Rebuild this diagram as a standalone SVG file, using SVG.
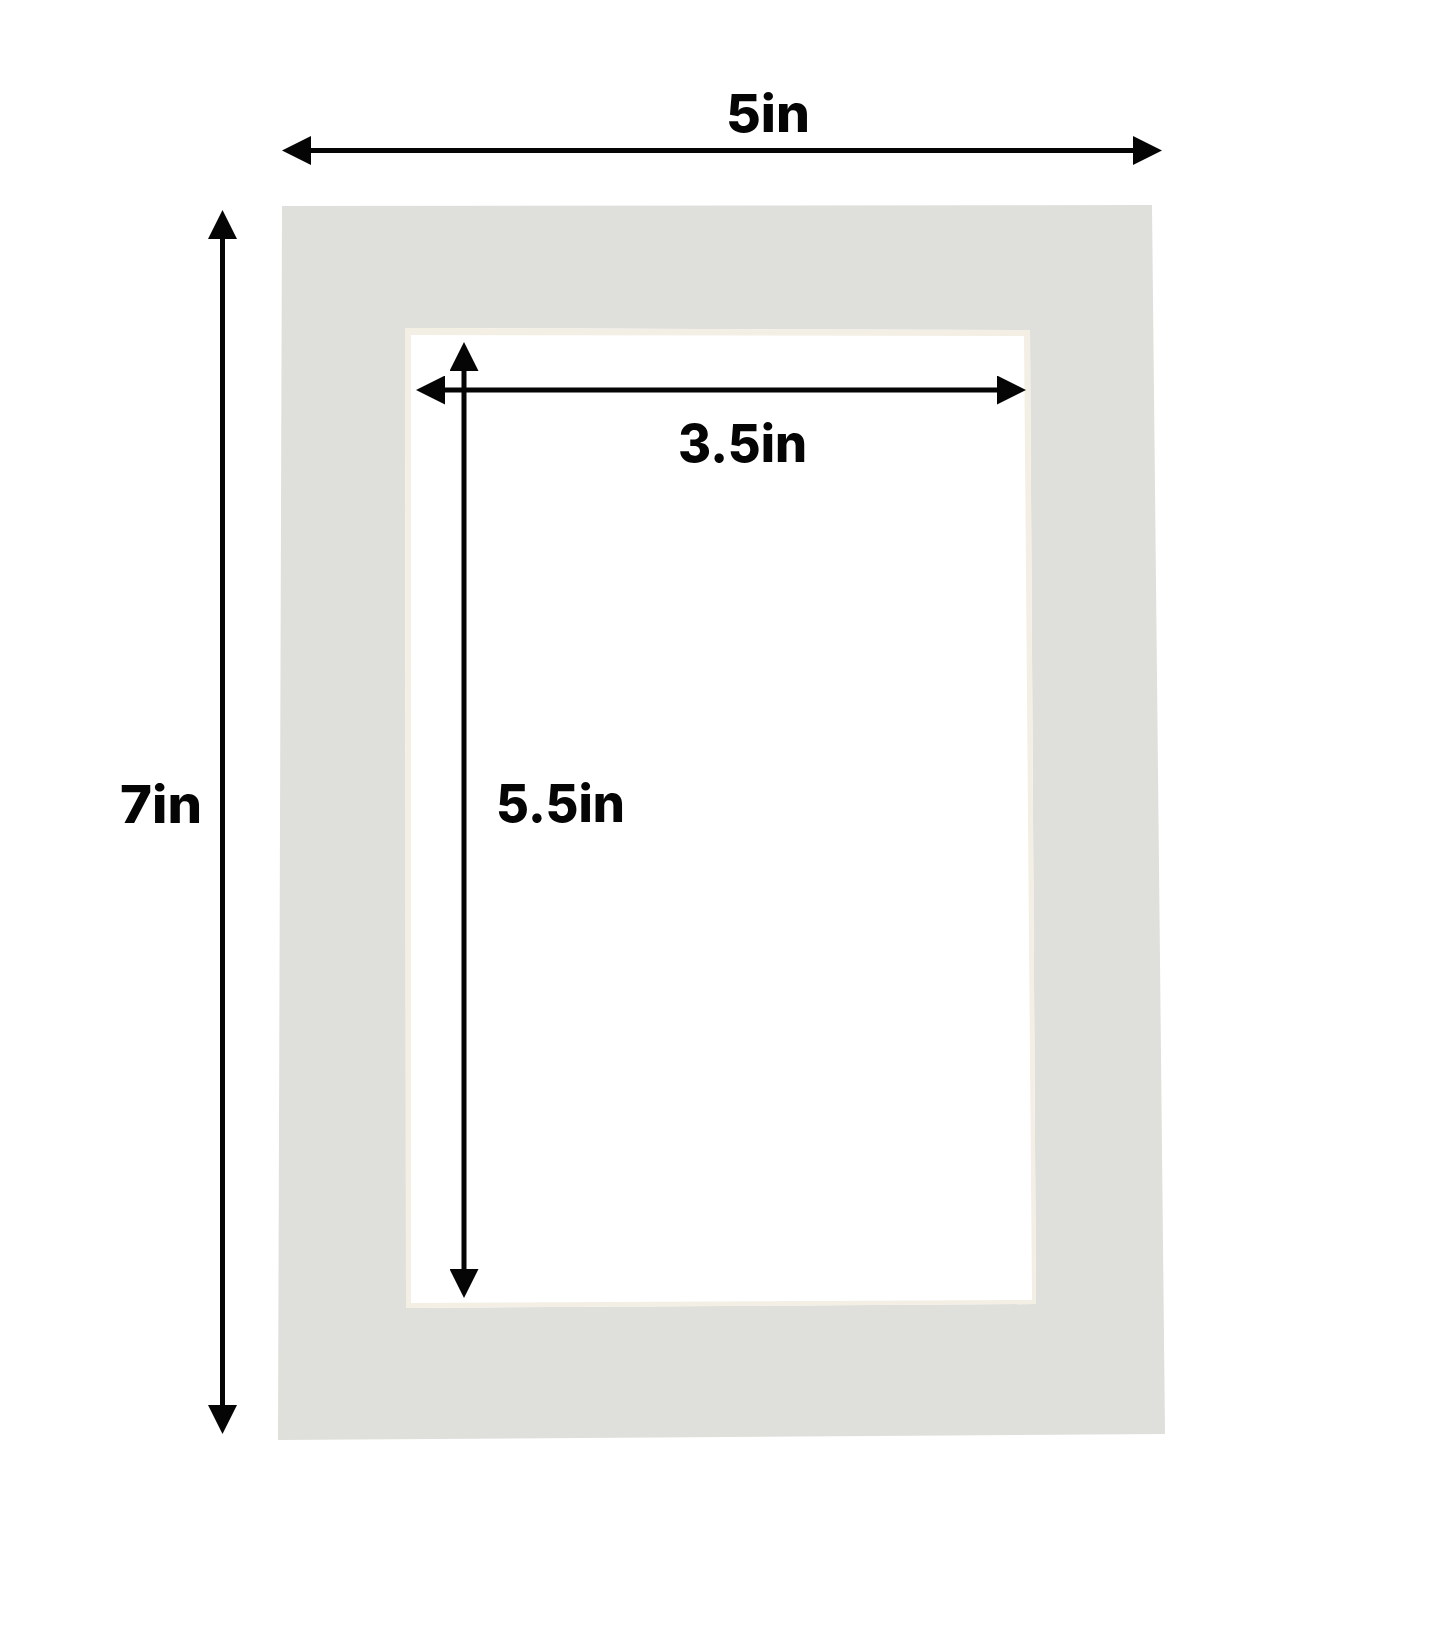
<svg xmlns="http://www.w3.org/2000/svg" width="1445" height="1645" viewBox="0 0 1445 1645">
  <defs>
    <style>
      .dim { stroke: #050505; stroke-width: 5; fill: none; marker-start: url(#head); marker-end: url(#head); }
      .lbl { font-family: Inter, "Open Sans", "Liberation Sans", sans-serif; font-weight: 800; font-size: 52px; fill: #050505; text-anchor: middle; }
    </style>
    <marker id="head" viewBox="0 0 29 29" markerWidth="29" markerHeight="29" refX="1" refY="14.5" orient="auto-start-reverse" markerUnits="userSpaceOnUse">
      <path d="M0,0 L29,14.5 L0,29 Z" fill="#050505"/>
    </marker>
  </defs>
  <rect width="1445" height="1645" fill="#ffffff"/>
  <g id="mat">
    <path fill="#dfe0db" fill-rule="evenodd" d="M282,206 L1152,205 L1165,1434 L278,1440 Z M405,328 L1030,330 L1036,1304 L406,1308 Z"/>
    <path fill="#f4efe4" fill-rule="evenodd" d="M405,328 L1030,330 L1036,1304 L406,1308 Z M411,335 L1024,336 L1032,1300 L411,1303 Z"/>
  </g>
  <g id="connectors">
    <line class="dim" x1="310" y1="150.5" x2="1134" y2="150.5"/>
    <line class="dim" x1="222.5" y1="238" x2="222.5" y2="1406"/>
    <line class="dim" x1="444" y1="390" x2="998" y2="390"/>
    <line class="dim" x1="464" y1="370" x2="464" y2="1270"/>
  </g>
  <g id="label-outer-width"><text class="lbl" x="768" y="132" textLength="84" lengthAdjust="spacingAndGlyphs">5in</text></g>
  <g id="label-inner-width"><text class="lbl" x="742.5" y="462" textLength="129" lengthAdjust="spacingAndGlyphs">3.5in</text></g>
  <g id="label-outer-height"><text class="lbl" x="161" y="823" textLength="82" lengthAdjust="spacingAndGlyphs">7in</text></g>
  <g id="label-inner-height"><text class="lbl" x="560.5" y="822" textLength="129" lengthAdjust="spacingAndGlyphs">5.5in</text></g>
</svg>
